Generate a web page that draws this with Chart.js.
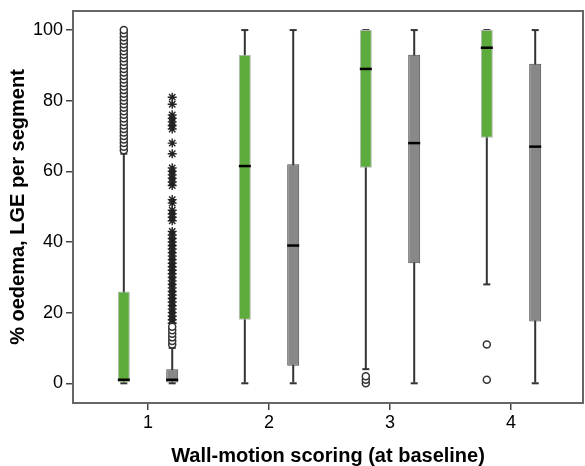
<!DOCTYPE html>
<html>
<head>
<meta charset="utf-8">
<script src="https://cdn.jsdelivr.net/npm/chart.js@4.4.1/dist/chart.umd.min.js"></script>
<style>
  body { margin: 0; background: #fff; }
  #wrap { width: 585px; height: 466px; }
</style>
</head>
<body>
<div id="wrap"><canvas id="boxChart"></canvas></div>
<script>
// categories on the x axis
var categories = [1, 2, 3, 4];
var xTicks = [1, 2, 3, 4];
var yTicks = [0, 20, 40, 60, 80, 100];

// green boxes (oedema)
var greenLow  = [0, 0, 4, 28];
var greenQ1   = [0, 18, 61, 69.5];
var greenMed  = [1, 61.5, 89, 95];
var greenQ3   = [26, 93, 100, 100];
var greenHigh = [65, 100, 100, 100];
var greenCircles = [
    [66, 67, 68, 69, 70, 71, 72, 73, 74, 75, 76, 77, 78, 79, 80, 81, 82, 83, 84, 85,
     86, 87, 88, 89, 90, 91, 92, 93, 94, 95, 96, 97, 98, 99, 100],
    [],
    [0, 1, 2],
    [11, 1]
];

// grey boxes (LGE)
var greyLow  = [0, 0, 0, 0];
var greyQ1   = [0, 5, 34, 17.5];
var greyMed  = [1, 39, 68, 67];
var greyQ3   = [4, 62, 93, 90.5];
var greyHigh = [10, 100, 100, 100];
var greyCircles = [[11, 12, 13, 14, 15, 16], [], [], []];
var greyStars = [
    [81, 79, 76, 75, 74, 73, 72, 68, 65, 61, 60, 59, 58, 57, 56, 52, 51, 49, 48, 47, 46,
     43, 42, 41, 40, 39, 38, 37, 36, 35, 34, 33, 32, 31, 30, 29, 28, 27, 26, 25, 24, 23,
     22, 21, 20, 19, 18, 17],
    [], [], []
];

var shift = 0.2;   // half distance between the two boxes of a category
var green = 'rgb(92, 171, 60)';
var grey = 'rgb(136, 136, 136)';
var dark = '#333';

function ranges(lo, hi, dx) {
    return categories.map((c, i) => ({x: c + dx, y: [lo[i], hi[i]]}));
}
function points(vals, dx) {
    return categories.map((c, i) => ({x: c + dx, y: vals[i]}));
}
function outliers(lists, dx) {
    var out = [];
    lists.forEach((list, i) => list.forEach(v => out.push({x: categories[i] + dx, y: v})));
    return out;
}

var framePlugin = {
    id: 'frame',
    beforeDatasetsDraw(chart) {
        var a = chart.chartArea, ctx = chart.ctx;
        ctx.save();
        ctx.strokeStyle = '#666';
        ctx.lineWidth = 2;
        ctx.strokeRect(a.left, a.top, a.right - a.left, a.bottom - a.top);
        ctx.restore();
    }
};

var ctx = document.getElementById('boxChart').getContext('2d');
var chart = new Chart(ctx, {
    type: 'bar',
    data: {
        datasets: [
            // whiskers
            {type: 'bar', data: ranges(greenLow, greenHigh, -shift), backgroundColor: dark,
             barThickness: 2, grouped: false, order: 10, inflateAmount: 0},
            {type: 'bar', data: ranges(greyLow, greyHigh, shift), backgroundColor: dark,
             barThickness: 2, grouped: false, order: 10, inflateAmount: 0},
            // whisker caps
            {type: 'scatter', data: points(greenLow, -shift).concat(points(greenHigh, -shift)),
             pointStyle: 'line', pointRadius: 3.5, borderColor: dark, borderWidth: 2, order: 9},
            {type: 'scatter', data: points(greyLow, shift).concat(points(greyHigh, shift)),
             pointStyle: 'line', pointRadius: 3.5, borderColor: dark, borderWidth: 2, order: 9},
            // boxes
            {type: 'bar', data: ranges(greenQ1, greenQ3, -shift), backgroundColor: green,
             borderColor: '#b5b5b5', borderWidth: 1, borderSkipped: false,
             barThickness: 12, grouped: false, order: 5, inflateAmount: 0},
            {type: 'bar', data: ranges(greyQ1, greyQ3, shift), backgroundColor: grey,
             borderColor: '#4a4a4a', borderWidth: 1, borderSkipped: false,
             barThickness: 12, grouped: false, order: 5, inflateAmount: 0},
            // medians
            {type: 'scatter', data: points(greenMed, -shift).concat(points(greyMed, shift)),
             pointStyle: 'line', pointRadius: 6, borderColor: '#000', borderWidth: 2.5, order: 2},
            // outliers
            {type: 'scatter', data: outliers(greenCircles, -shift).concat(outliers(greyCircles, shift)),
             pointStyle: 'circle', pointRadius: 3.5, backgroundColor: '#fff', borderColor: '#333',
             borderWidth: 1.5, order: 1},
            {type: 'scatter', data: outliers(greyStars, shift),
             pointStyle: 'star', pointRadius: 4.5, borderColor: '#222', borderWidth: 1.4, order: 1}
        ]
    },
    options: {
        responsive: true,
        maintainAspectRatio: false,
        animation: false,
        layout: {autoPadding: false, padding: {top: 11, right: 2, left: 0, bottom: 0}},
        plugins: {legend: {display: false}, tooltip: {enabled: false}},
        scales: {
            x: {
                type: 'linear',
                offset: false,
                min: 0.38,
                max: 4.595,
                afterBuildTicks: s => { s.ticks = xTicks.map(v => ({value: v})); },
                afterFit: s => { s.height = 63; s.paddingLeft = 0; s.paddingRight = 0; },
                grid: {offset: false, drawOnChartArea: false, drawTicks: true, tickLength: 7,
                       color: '#444', lineWidth: 1.5},
                border: {display: false},
                ticks: {color: '#000', padding: 2, font: {family: 'Liberation Sans, Arial', size: 18}},
                title: {display: true, text: 'Wall-motion scoring (at baseline)', color: '#000',
                        font: {family: 'Liberation Sans, Arial', size: 20, weight: 'bold', lineHeight: 1},
                        padding: {top: 0, bottom: 0}}
            },
            y: {
                type: 'linear',
                stacked: false,
                min: -5.58,
                max: 105.4,
                afterBuildTicks: s => { s.ticks = yTicks.map(v => ({value: v})); },
                afterFit: s => { s.width = 73; s.paddingTop = 0; s.paddingBottom = 0; },
                grid: {drawOnChartArea: false, drawTicks: true, tickLength: 7, color: '#444', lineWidth: 1.5},
                border: {display: false},
                ticks: {color: '#000', padding: 3, font: {family: 'Liberation Sans, Arial', size: 18}},
                title: {display: true, text: '% oedema, LGE per segment', color: '#000',
                        font: {family: 'Liberation Sans, Arial', size: 20, weight: 'bold', lineHeight: 1.2},
                        padding: {top: 6, bottom: 0}}
            }
        }
    },
    plugins: [framePlugin]
});
</script>
</body>
</html>
